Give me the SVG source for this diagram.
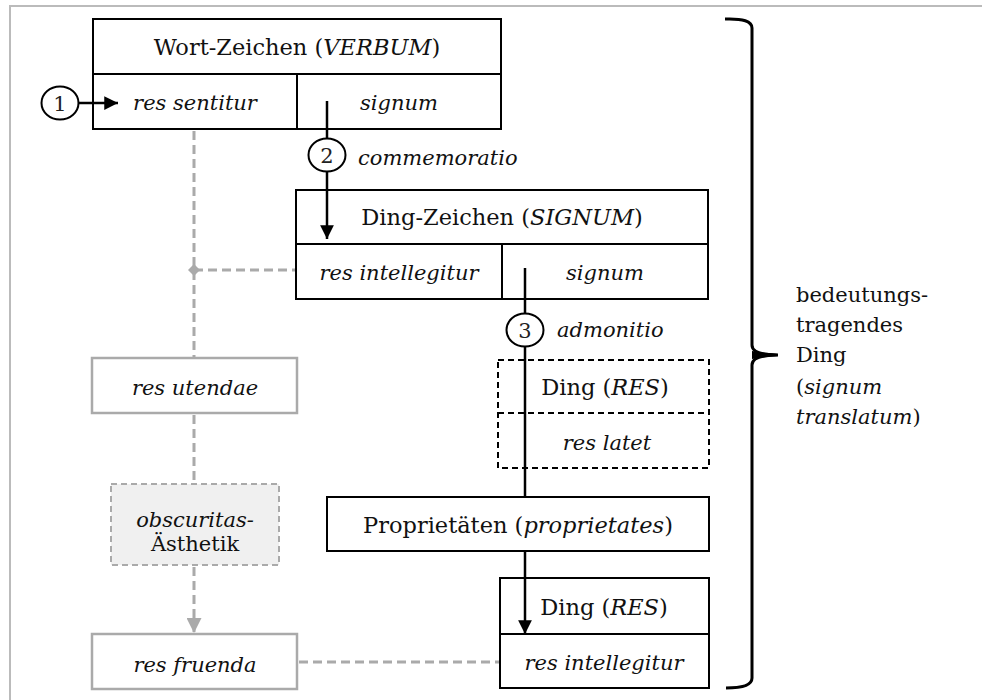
<svg xmlns="http://www.w3.org/2000/svg" width="982" height="700" viewBox="0 0 982 700">
  <style>
    text { font-family: "DejaVu Serif", Georgia, serif; font-size: 21px; fill: #111; }
    .c { text-anchor: middle; }
    .it { font-style: italic; }
    .t { font-size: 22.5px; }
    .box { fill: #fff; stroke: #000; stroke-width: 2; }
    .dbox { fill: #fff; stroke: #000; stroke-width: 2; stroke-dasharray: 6 4; }
    .gbox { fill: #fff; stroke: #aaa; stroke-width: 2.5; }
    .gdbox { fill: #f0f0f0; stroke: #aaa; stroke-width: 2; stroke-dasharray: 6 4; }
    .sep { fill: none; stroke: #000; stroke-width: 2; }
    .ln { fill: none; stroke: #000; stroke-width: 2.5; }
    .dl { fill: none; stroke: #000; stroke-width: 2; stroke-dasharray: 6 4; }
    .gl { fill: none; stroke: #aaa; stroke-width: 3; stroke-dasharray: 9 5; }
    .num { fill: #fff; stroke: #000; stroke-width: 2; }
    .numt { font-size: 21px; text-anchor: middle; fill: #222; }
  </style>
  <defs>
    <marker id="ah" viewBox="0 0 10 10" refX="10" refY="5" markerWidth="5.5" markerHeight="5.5" markerUnits="strokeWidth" orient="auto">
      <path d="M0,0 L10,5 L0,10 z" fill="#000"/>
    </marker>
    <marker id="gah" viewBox="0 0 10 10" refX="10" refY="5" markerWidth="5" markerHeight="5" markerUnits="strokeWidth" orient="auto">
      <path d="M0,0 L10,5 L0,10 z" fill="#aaa"/>
    </marker>
  </defs>

  <!-- outer frame -->
  <rect x="10" y="6" width="990" height="720" fill="#fff" stroke="#bbb" stroke-width="2"/>

  <!-- Wort-Zeichen -->
  <g id="wort-zeichen">
    <rect class="box" x="93" y="19" width="408" height="110"/>
    <path class="sep" d="M93,74 H501 M297,74 V129"/>
    <text class="c t" x="297" y="55">Wort-Zeichen (<tspan class="it">VERBUM</tspan>)</text>
    <text class="c it" x="195" y="110">res sentitur</text>
    <text class="c it" x="399" y="110">signum</text>
  </g>

  <!-- Ding-Zeichen -->
  <g id="ding-zeichen">
    <rect class="box" x="296" y="190" width="412" height="109"/>
    <path class="sep" d="M296,244 H708 M502,244 V299"/>
    <text class="c t" x="502" y="225">Ding-Zeichen (<tspan class="it">SIGNUM</tspan>)</text>
    <text class="c it" x="399" y="280">res intellegitur</text>
    <text class="c it" x="605" y="280">signum</text>
  </g>

  <!-- Ding (res latet) -->
  <g id="ding-latet">
    <rect class="dbox" x="498" y="360" width="211" height="108"/>
    <path class="dl" d="M498,413 H709"/>
    <text class="c t" x="605" y="395">Ding (<tspan class="it">RES</tspan>)</text>
    <text class="c it" x="607" y="450">res latet</text>
  </g>

  <!-- Proprietäten -->
  <g id="proprietaeten">
    <rect class="box" x="327" y="497" width="382" height="54"/>
    <text class="c t" x="518" y="533">Proprietäten (<tspan class="it">proprietates</tspan>)</text>
  </g>

  <!-- Ding (res intellegitur) -->
  <g id="ding-intellegitur">
    <rect class="box" x="500" y="578" width="209" height="110"/>
    <path class="sep" d="M500,634 H709"/>
    <text class="c t" x="604" y="615">Ding (<tspan class="it">RES</tspan>)</text>
    <text class="c it" x="604" y="670">res intellegitur</text>
  </g>

  <!-- grey column -->
  <g id="res-utendae">
    <rect class="gbox" x="92" y="358" width="205" height="55"/>
    <text class="c it" x="195" y="395">res utendae</text>
  </g>
  <g id="obscuritas">
    <rect class="gdbox" x="111" y="484" width="168" height="81"/>
    <text class="c it" x="195" y="527">obscuritas-</text>
    <text class="c" x="195" y="551">Ästhetik</text>
  </g>
  <g id="res-fruenda">
    <rect class="gbox" x="92" y="634" width="205" height="55"/>
    <text class="c it" x="195" y="672">res fruenda</text>
  </g>

  <!-- connectors -->
  <g id="connectors">
    <!-- grey dashed links -->
    <path class="gl" d="M194,131 V357"/>
    <path class="gl" d="M194,270 H295"/>
    <path d="M194,264 L200,270 L194,276 L188,270 z" fill="#aaa"/>
    <path class="gl" d="M194,415 V483"/>
    <path class="gl" d="M194,567 V633" marker-end="url(#gah)"/>
    <path class="gl" d="M299,662 H499"/>
    <!-- black arrows -->
    <path class="ln" d="M78,103 H118" marker-end="url(#ah)"/>
    <path class="ln" d="M327,101 V239" marker-end="url(#ah)"/>
    <path class="ln" d="M525,268 V497"/>
    <path class="ln" d="M525,551 V634" marker-end="url(#ah)"/>
  </g>

  <!-- numbered steps -->
  <g id="step-1">
    <ellipse class="num" cx="60" cy="103" rx="18.5" ry="16.5"/>
    <text class="numt" x="60" y="111">1</text>
  </g>
  <g id="step-2">
    <ellipse class="num" cx="327" cy="155" rx="18.5" ry="16.5"/>
    <text class="numt" x="327" y="163">2</text>
    <text class="it" x="358" y="165">commemoratio</text>
  </g>
  <g id="step-3">
    <ellipse class="num" cx="525" cy="330" rx="18.5" ry="16.5"/>
    <text class="numt" x="525" y="338">3</text>
    <text class="it" x="557" y="337">admonitio</text>
  </g>

  <!-- brace and its label -->
  <g id="brace">
    <path d="M725,19 Q752,18 752,28 V345 Q752,355 778,355 Q752,355 752,365 V678 Q752,688 726,688" fill="none" stroke="#000" stroke-width="3"/>
    <path d="M752,351 L778,354 L778,356 L752,359 z" fill="#000"/>
    <text x="796" y="302">bedeutungs-</text>
    <text x="796" y="332">tragendes</text>
    <text x="796" y="362">Ding</text>
    <text x="796" y="394">(<tspan class="it">signum</tspan></text>
    <text x="796" y="424"><tspan class="it">translatum</tspan>)</text>
  </g>
</svg>
